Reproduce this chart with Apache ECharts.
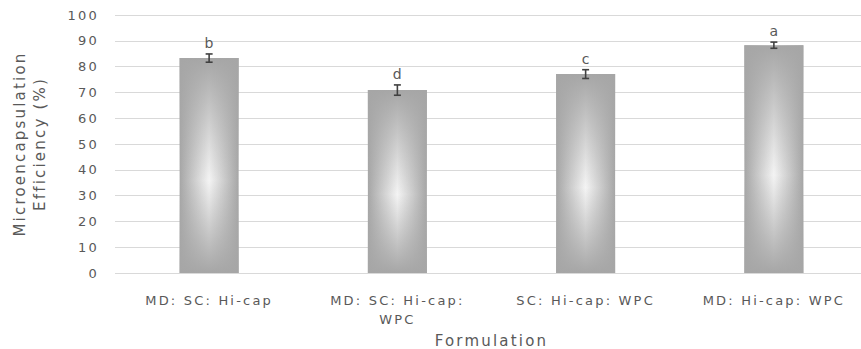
<!DOCTYPE html>
<html lang="en">
<head>
    <meta charset="UTF-8">
    <title>Microencapsulation Efficiency</title>
    <script src="https://cdn.jsdelivr.net/npm/echarts@6/dist/echarts.min.js"></script>
    <style>
        html,body{margin:0;padding:0;background:#fff}
        #chart{width:861px;height:349px}
        #chart text{letter-spacing:2.2px}
    </style>
</head>
<body>
    <div id="chart"></div>
    <script>
        var formulations=['MD: SC: Hi-cap','MD: SC: Hi-cap:\nWPC','SC: Hi-cap: WPC','MD: Hi-cap: WPC'];
        var efficiency=[83.3,70.9,77.1,88.3];
        var errors=[1.6,2.0,1.7,1.2];
        var letters=['b','d','c','a'];

        var mychart=echarts.init(document.getElementById('chart'),null,{renderer:'svg'});

        var errData=[];
        for(var i=0;i<efficiency.length;i++){
            errData.push([i,efficiency[i],errors[i],letters[i]]);
        }

        var option={
            animation:false,
            textStyle:{fontFamily:'DejaVu Sans'},
            grid:{left:115,right:-7,top:15,bottom:76,outerBoundsMode:'none',containLabel:false},
            xAxis:{
                type:'category',
                data:formulations,
                name:'Formulation',
                nameLocation:'middle',
                nameGap:52,
                nameTextStyle:{fontSize:15,color:'#595959'},
                axisLine:{show:false},
                axisTick:{show:false},
                axisLabel:{interval:0,fontSize:13,color:'#595959',margin:18,lineHeight:19}
            },
            yAxis:{
                type:'value',
                min:0,
                max:100,
                interval:10,
                name:'Microencapsulation\nEfficiency (%)',
                nameLocation:'middle',
                nameGap:65,
                nameTextStyle:{fontSize:15,color:'#595959',lineHeight:20},
                axisLine:{show:false},
                axisTick:{show:false},
                axisLabel:{fontSize:13,color:'#595959',margin:16},
                splitLine:{lineStyle:{color:'#d9d9d9',width:1}}
            },
            series:[
                {
                    name:'efficiency',
                    type:'bar',
                    barWidth:59,
                    data:efficiency,
                    itemStyle:{
                        color:new echarts.graphic.LinearGradient(0,0,1,0,[
                            {offset:0,color:'#a6a6a6'},
                            {offset:0.5,color:'#f4f4f4'},
                            {offset:1,color:'#a6a6a6'}
                        ])
                    }
                },
                {
                    name:'shade',
                    type:'bar',
                    barWidth:59,
                    barGap:'-100%',
                    data:efficiency,
                    silent:true,
                    itemStyle:{
                        color:new echarts.graphic.LinearGradient(0,0,0,1,[
                            {offset:0,color:'rgba(166,166,166,1)'},
                            {offset:0.57,color:'rgba(166,166,166,0)'},
                            {offset:1,color:'rgba(166,166,166,1)'}
                        ])
                    }
                },
                {
                    name:'error',
                    type:'custom',
                    data:errData,
                    z:10,
                    renderItem:function(params,api){
                        var x=api.value(0),v=api.value(1),e=api.value(2);
                        var top=api.coord([x,v+e]);
                        var bot=api.coord([x,v-e]);
                        var w=3.5;
                        var st={stroke:'#404040',lineWidth:1.6};
                        return {
                            type:'group',
                            children:[
                                {type:'line',shape:{x1:top[0],y1:top[1],x2:bot[0],y2:bot[1]},style:st},
                                {type:'line',shape:{x1:top[0]-w,y1:top[1],x2:top[0]+w,y2:top[1]},style:st},
                                {type:'line',shape:{x1:bot[0]-w,y1:bot[1],x2:bot[0]+w,y2:bot[1]},style:st},
                                {type:'text',style:{
                                    text:letters[params.dataIndex],
                                    x:top[0]+1,
                                    y:top[1]-4,
                                    align:'center',
                                    verticalAlign:'bottom',
                                    fill:'#595959',
                                    font:'14px "DejaVu Sans"'
                                }}
                            ]
                        };
                    }
                }
            ]
        };
        mychart.setOption(option);
    </script>
</body>
</html>
